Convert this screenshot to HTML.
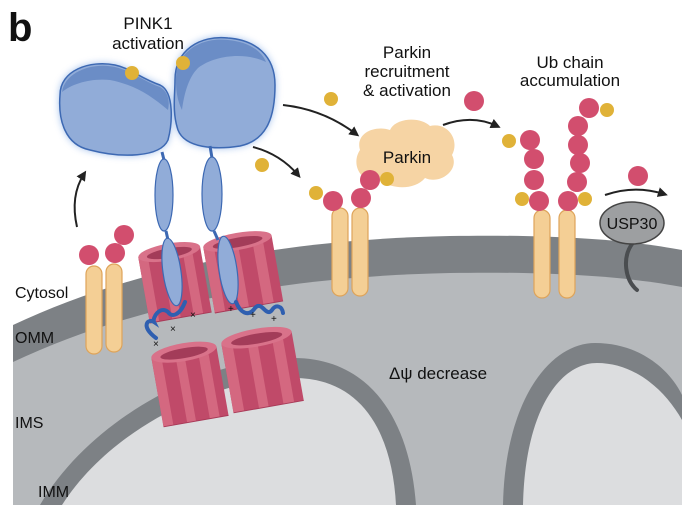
<!DOCTYPE html>
<html><head><meta charset="utf-8"><style>
html,body{margin:0;padding:0;background:#fff}
svg{display:block}
text{font-family:"Liberation Sans",sans-serif;fill:#111}
</style></head><body>
<svg width="688" height="519" viewBox="0 0 688 519" xmlns="http://www.w3.org/2000/svg">
<defs>
<filter id="glow" x="-20%" y="-20%" width="140%" height="140%"><feGaussianBlur stdDeviation="4"/></filter>
<marker id="ah" viewBox="0 0 10 10" refX="6" refY="5" markerWidth="5" markerHeight="5" orient="auto"><path d="M0,0 L10,5 L0,10 Z" fill="#222"/></marker>
<g id="cx">
<path d="M0,8 L0,78 L66,78 L66,8 Z" fill="#c04a69"/>
<rect x="0" y="8" width="10" height="70" fill="#d46880"/>
<rect x="24" y="8" width="9" height="70" fill="#d46880"/>
<rect x="47" y="8" width="10" height="70" fill="#d46880"/>
<path d="M0,78 L66,78" stroke="#a83a58" stroke-width="1"/>
<ellipse cx="33" cy="8" rx="33" ry="9" fill="#d9728a"/>
<ellipse cx="33" cy="9" rx="24" ry="5" fill="#a33c59"/>
</g>
<g id="bar"><rect x="-8" y="0" width="16" height="88" rx="8" fill="#f4cf95" stroke="#dea45a" stroke-width="1.2"/></g>
</defs>

<!-- mitochondrion -->
<path d="M13,325 C120,275 260,240 450,236 C570,234 640,242 682,250 L682,505 L13,505 Z" fill="#7d8185"/>
<path d="M13,362 C120,312 260,277 450,273 C570,271 640,279 682,287 L682,505 L13,505 Z" fill="#b6b9bc"/>
<!-- left crista -->
<path d="M40,505 C90,420 200,360 290,358 C370,356 410,420 416,505 Z" fill="#7d8185"/>
<path d="M62,505 C110,430 210,380 292,378 C360,377 392,430 396,505 Z" fill="#dcdddf"/>
<!-- right crista -->
<path d="M503,505 C505,400 550,343 595,343 C640,343 670,370 682,395 L682,505 Z" fill="#7d8185"/>
<path d="M523,505 C525,410 560,363 597,363 C635,363 665,390 682,420 L682,505 Z" fill="#dcdddf"/>

<!-- channels -->
<use href="#cx" transform="translate(150,350) rotate(-10)"/>
<use href="#cx" transform="translate(220,336) rotate(-10) scale(1.08,1)"/>

<!-- left bars -->
<use href="#bar" transform="translate(94,266)"/>
<use href="#bar" transform="translate(114,264)"/>
<circle cx="89" cy="255" r="10" fill="#d24e6e"/><circle cx="115" cy="253" r="10" fill="#d24e6e"/><circle cx="124" cy="235" r="10" fill="#d24e6e"/>

<use href="#cx" transform="translate(137,250) rotate(-10) scale(0.95,0.95)"/>
<use href="#cx" transform="translate(202,240) rotate(-10) scale(1.05,0.95)"/>

<!-- PINK1 -->
<g filter="url(#glow)" opacity="0.7">
<path d="M60,95 C60,70 90,60 115,65 C130,68 140,78 160,85 C175,92 172,125 168,140 C160,158 120,158 90,150 C65,145 58,120 60,95 Z" fill="#6a9ae0"/>
<path d="M175,80 C175,50 200,35 228,38 C255,40 275,55 275,85 C275,115 268,140 240,146 C215,150 185,148 178,130 C172,112 175,95 175,80 Z" fill="#6a9ae0"/>
</g>
<path d="M60,95 C60,70 90,60 115,65 C130,68 140,78 160,85 C175,92 172,125 168,140 C160,158 120,158 90,150 C65,145 58,120 60,95 Z" fill="#91acd8" stroke="#3d69b3" stroke-width="1.5"/>
<path d="M62,92 C65,72 92,62 115,67 C132,71 145,82 160,87 C168,92 170,100 168,110 C150,95 135,85 110,80 C90,78 72,84 62,92 Z" fill="#6b8dc6"/>
<path d="M175,80 C175,50 200,35 228,38 C255,40 275,55 275,85 C275,115 268,140 240,146 C215,150 185,148 178,130 C172,112 175,95 175,80 Z" fill="#91acd8" stroke="#3d69b3" stroke-width="1.5"/>
<path d="M176,80 C176,52 200,37 228,40 C250,42 262,52 266,62 C245,52 215,55 198,68 C188,78 184,95 182,110 C177,100 176,90 176,80 Z" fill="#6b8dc6"/>
<!-- stalks -->
<path d="M162,152 L164,160 M210,146 L212,158" stroke="#3d69b3" stroke-width="3"/>
<ellipse cx="164" cy="195" rx="9" ry="36" fill="#91acd8" stroke="#3d69b3" stroke-width="1.2"/>
<ellipse cx="212" cy="194" rx="10" ry="37" fill="#91acd8" stroke="#3d69b3" stroke-width="1.2"/>
<path d="M166,231 L168,240 M214,231 L218,240" stroke="#3d69b3" stroke-width="3"/>
<ellipse cx="172" cy="272" rx="9" ry="34" transform="rotate(-8 172 272)" fill="#91acd8" stroke="#3d69b3" stroke-width="1.2"/>
<ellipse cx="228" cy="270" rx="9" ry="34" transform="rotate(-8 228 270)" fill="#91acd8" stroke="#3d69b3" stroke-width="1.2"/>
<!-- tails -->
<path d="M185,302 C180,315 172,318 168,312 C160,305 152,318 154,322 C148,318 140,326 156,338" fill="none" stroke="#2f5fb0" stroke-width="4" stroke-linecap="round"/>
<path d="M236,302 C240,312 248,318 255,308 C262,300 266,318 272,310 C276,304 282,306 283,313" fill="none" stroke="#2f5fb0" stroke-width="4" stroke-linecap="round"/>
<g font-size="10" fill="#222"><text x="190" y="318">×</text><text x="170" y="332">×</text><text x="153" y="347">×</text><text x="228" y="312">+</text><text x="250" y="318">+</text><text x="271" y="322">+</text></g>
<circle cx="132" cy="73" r="7" fill="#e0b238"/><circle cx="183" cy="63" r="7" fill="#e0b238"/>

<!-- arrows -->
<path d="M77,227 C72,205 75,188 84,174" fill="none" stroke="#222" stroke-width="2" marker-end="url(#ah)"/>
<path d="M283,105 C310,108 335,118 356,134" fill="none" stroke="#222" stroke-width="2" marker-end="url(#ah)"/>
<path d="M253,147 C272,152 287,162 298,175" fill="none" stroke="#222" stroke-width="2" marker-end="url(#ah)"/>
<path d="M443,125 C462,118 480,118 497,126" fill="none" stroke="#222" stroke-width="2" marker-end="url(#ah)"/>
<path d="M605,195 C625,188 645,188 664,194" fill="none" stroke="#222" stroke-width="2" marker-end="url(#ah)"/>

<!-- Parkin -->
<path d="M360,150 C355,133 375,125 390,130 C395,118 420,116 430,126 C448,122 460,140 452,155 C460,170 440,185 425,178 C415,190 392,190 380,180 C362,185 350,165 360,150 Z" fill="#f6d4a4"/>
<text x="407" y="163" font-size="17" text-anchor="middle">Parkin</text>

<!-- middle bars -->
<use href="#bar" transform="translate(340,208)"/>
<use href="#bar" transform="translate(360,208)"/>
<circle cx="316" cy="193" r="7" fill="#e0b238"/><circle cx="333" cy="201" r="10" fill="#d24e6e"/>
<circle cx="361" cy="198" r="10" fill="#d24e6e"/><circle cx="370" cy="180" r="10" fill="#d24e6e"/><circle cx="387" cy="179" r="7" fill="#e0b238"/>
<circle cx="331" cy="99" r="7" fill="#e0b238"/><circle cx="262" cy="165" r="7" fill="#e0b238"/>

<!-- right bars -->
<use href="#bar" transform="translate(542,210)"/>
<use href="#bar" transform="translate(567,210)"/>
<circle cx="474" cy="101" r="10" fill="#d24e6e"/>
<circle cx="509" cy="141" r="7" fill="#e0b238"/><circle cx="522" cy="199" r="7" fill="#e0b238"/>
<circle cx="530" cy="140" r="10" fill="#d24e6e"/><circle cx="534" cy="159" r="10" fill="#d24e6e"/><circle cx="534" cy="180" r="10" fill="#d24e6e"/><circle cx="539" cy="201" r="10" fill="#d24e6e"/>
<circle cx="568" cy="201" r="10" fill="#d24e6e"/><circle cx="577" cy="182" r="10" fill="#d24e6e"/><circle cx="580" cy="163" r="10" fill="#d24e6e"/><circle cx="578" cy="145" r="10" fill="#d24e6e"/><circle cx="578" cy="126" r="10" fill="#d24e6e"/><circle cx="589" cy="108" r="10" fill="#d24e6e"/>
<circle cx="607" cy="110" r="7" fill="#e0b238"/><circle cx="585" cy="199" r="7" fill="#e0b238"/>
<circle cx="638" cy="176" r="10" fill="#d24e6e"/>

<!-- USP30 -->
<path d="M632,244 C622,258 625,280 637,290" fill="none" stroke="#4a4d50" stroke-width="4" stroke-linecap="round"/>
<ellipse cx="632" cy="223" rx="32" ry="21" fill="#9d9fa1" stroke="#444" stroke-width="1.5"/>
<text x="632" y="229" font-size="16" text-anchor="middle">USP30</text>

<!-- labels -->
<text x="8" y="41" font-size="40" font-weight="bold">b</text>
<text x="148" y="29" font-size="17" text-anchor="middle">PINK1</text>
<text x="148" y="49" font-size="17" text-anchor="middle">activation</text>
<text x="407" y="58" font-size="17" text-anchor="middle">Parkin</text>
<text x="407" y="77" font-size="17" text-anchor="middle">recruitment</text>
<text x="407" y="96" font-size="17" text-anchor="middle">&amp; activation</text>
<text x="570" y="68" font-size="17" text-anchor="middle">Ub chain</text>
<text x="570" y="86" font-size="17" text-anchor="middle">accumulation</text>
<text x="15" y="298" font-size="16">Cytosol</text>
<text x="15" y="343" font-size="16">OMM</text>
<text x="15" y="428" font-size="16">IMS</text>
<text x="38" y="497" font-size="16">IMM</text>
<text x="389" y="379" font-size="17">Δψ decrease</text>
</svg>
</body></html>
